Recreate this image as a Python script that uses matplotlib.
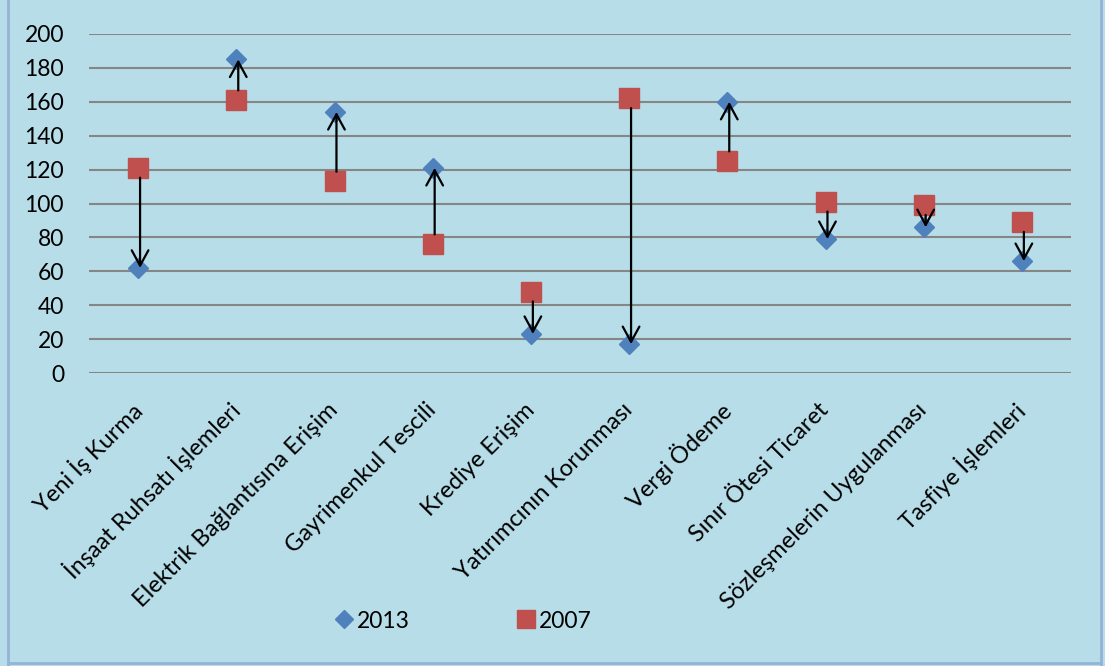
import matplotlib
matplotlib.use("Agg")
import matplotlib.pyplot as plt
from matplotlib.lines import Line2D

plt.rcParams['font.family'] = ['Lato', 'DejaVu Sans']

# data
categories = ["Yeni İş Kurma", "İnşaat Ruhsatı İşlemleri", "Elektrik Bağlantısına Erişim",
              "Gayrimenkul Tescili", "Krediye Erişim", "Yatırımcının Korunması",
              "Vergi Ödeme", "Sınır Ötesi Ticaret", "Sözleşmelerin Uygulanması",
              "Tasfiye İşlemleri"]
values_2013 = [62, 185, 154, 121, 23, 17, 160, 79, 86, 66]
values_2007 = [121, 161, 113, 76, 48, 162, 125, 101, 99, 89]
yticks = [0, 20, 40, 60, 80, 100, 120, 140, 160, 180, 200]

bg = "#B7DDE8"
blue = "#4F81BD"
red = "#C0504D"

fig = plt.figure(figsize=(11.05, 6.66), dpi=100, facecolor=bg)
ax = fig.add_axes([89 / 1105, 1 - 373 / 666, (1071 - 89) / 1105, (373 - 34) / 666])
ax.set_facecolor(bg)

x = list(range(len(categories)))
ax.plot(x, values_2013, linestyle='none', marker='D', markersize=10.2,
        color=blue, zorder=3)
ax.plot(x, values_2007, linestyle='none', marker='s', markersize=14.4,
        color=red, zorder=3)

# arrows from 2007 to 2013
for i in x:
    ax.annotate("", xy=(i + 0.02, values_2013[i]), xytext=(i + 0.02, values_2007[i]),
                arrowprops=dict(arrowstyle='->, head_length=0.55, head_width=0.3',
                                mutation_scale=20, lw=1.6, color='black',
                                shrinkA=7, shrinkB=0),
                zorder=4)

ax.set_xlim(-0.5, len(categories) - 0.5)
ax.set_ylim(0, 200)
ax.set_yticks(yticks)
ax.set_yticklabels([str(v) for v in yticks], fontsize=16.5)
ax.yaxis.grid(True, color='#868686', linewidth=1.5)
ax.set_axisbelow(True)
for s in ax.spines.values():
    s.set_visible(False)
ax.tick_params(axis='both', length=0)
ax.tick_params(axis='y', pad=18)

ax.set_xticks(x)
ax.set_xticklabels(categories, rotation=45, ha='right', va='center',
                   rotation_mode='anchor', fontsize=17)
ax.tick_params(axis='x', pad=24)

handles = [Line2D([], [], linestyle='none', marker='D', markersize=9.5, color=blue),
           Line2D([], [], linestyle='none', marker='s', markersize=12.5, color=red)]
fig.legend(handles, ["2013", "2007"], loc='center', bbox_to_anchor=(462 / 1105, 1 - 621 / 666),
           ncol=2, frameon=False, fontsize=16.5, handletextpad=0.05, columnspacing=4.6,
           handlelength=1.0)

# outer chart border
fig.add_artist(Line2D([8 / 1105, 8 / 1105], [0, 1], color='#95B3D7', lw=2,
                      transform=fig.transFigure))
fig.add_artist(Line2D([1101 / 1105, 1101 / 1105], [0, 1], color='#95B3D7', lw=2,
                      transform=fig.transFigure))
fig.add_artist(Line2D([8 / 1105, 1101 / 1105], [3 / 666, 3 / 666], color='#95B3D7', lw=2,
                      transform=fig.transFigure))

fig.savefig("out.png", dpi=100, facecolor=bg)
